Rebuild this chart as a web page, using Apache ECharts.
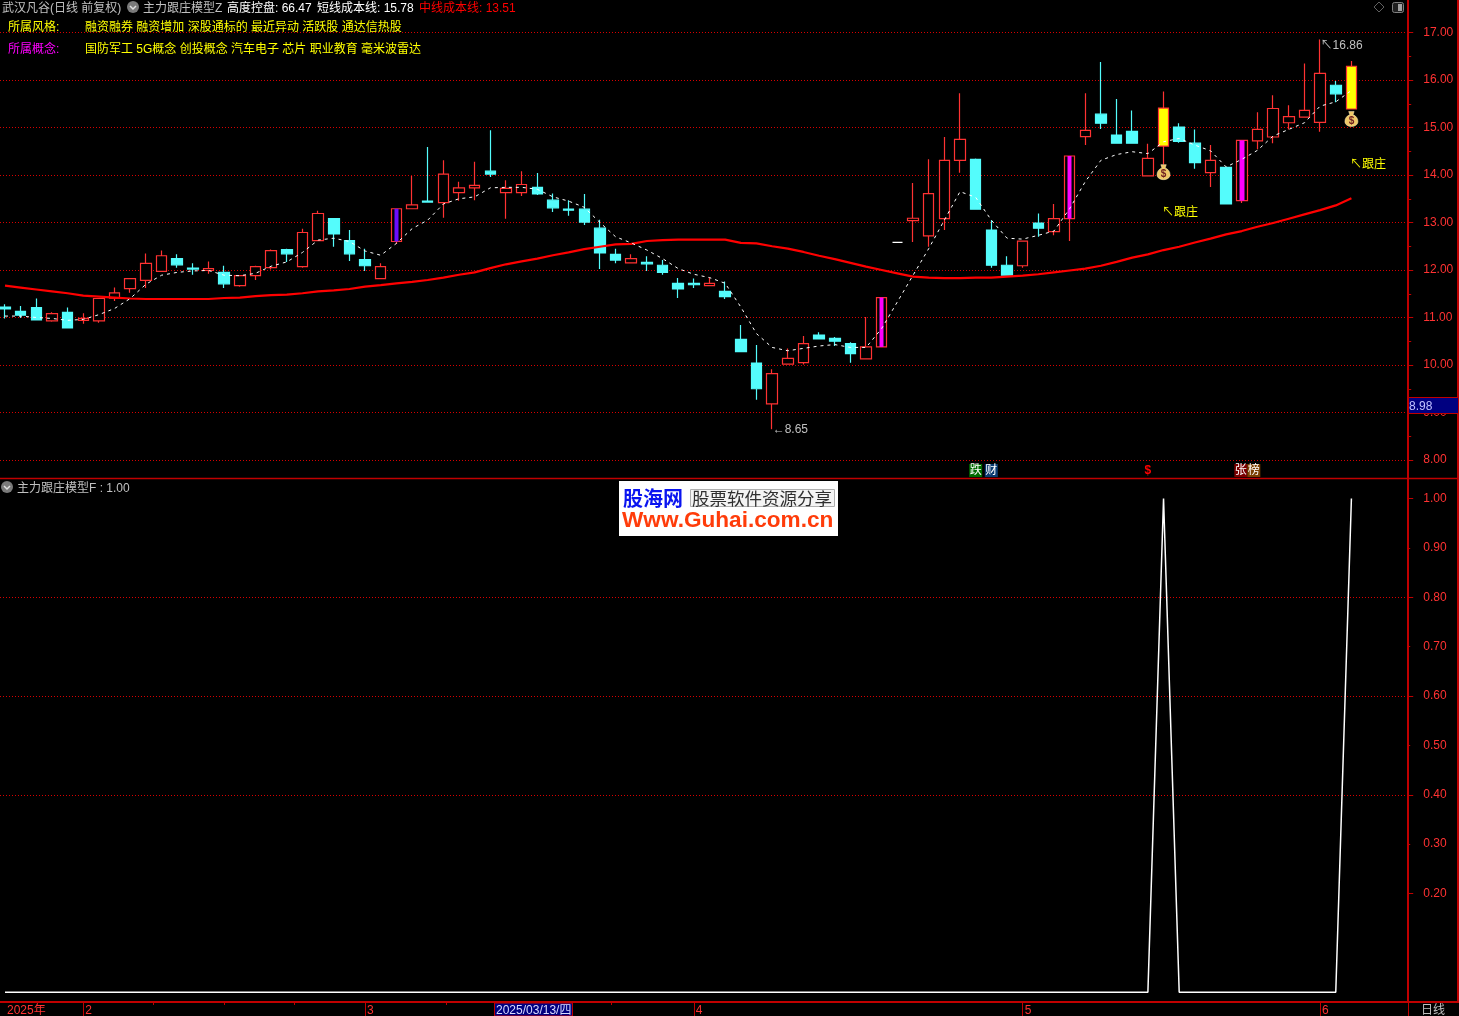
<!DOCTYPE html>
<html><head><meta charset="utf-8">
<style>html,body{margin:0;padding:0;background:#000}#c{width:1459px;height:1016px}</style>
<script src="https://cdn.jsdelivr.net/npm/echarts@6/dist/echarts.min.js"></script>
</head><body><div id="c"></div>
<script>
const opens=[11.22,11.13,11.21,10.93,11.11,10.94,10.93,11.41,11.61,11.78,11.97,12.24,12.04,11.99,11.95,11.67,11.88,12.05,12.43,12.07,12.62,13.08,12.62,12.22,11.82,12.60,13.29,13.45,13.42,13.63,13.73,
14.08,13.63,13.63,13.74,13.47,13.28,13.28,12.88,12.33,12.15,12.16,12.10,11.72,11.72,11.67,11.55,10.54,10.04,9.18,10.02,10.05,10.63,10.56,10.45,10.13,10.38,12.58,13.04,12.72,13.08,
14.31,14.33,12.84,12.10,12.09,12.99,12.81,13.08,14.81,15.28,14.84,14.92,13.98,14.61,15.01,14.67,14.05,14.16,13.46,14.72,14.80,15.10,15.22,15.11,15.89,15.39];
const closes=[11.18,11.05,10.95,11.08,10.78,10.98,11.40,11.52,11.82,12.14,12.30,12.11,12.02,12.03,11.71,11.88,12.07,12.41,12.34,12.79,13.19,12.76,12.34,12.09,12.07,13.29,13.37,13.43,14.02,13.73,13.78,
14.02,13.72,13.80,13.60,13.31,13.26,13.01,12.36,12.21,12.24,12.13,11.95,11.60,11.69,11.72,11.44,10.28,9.50,9.82,10.14,10.45,10.55,10.50,10.24,10.38,11.42,12.58,13.09,13.61,14.31,
14.75,13.28,12.10,11.89,12.61,12.88,13.08,14.40,14.94,15.09,14.67,14.67,14.35,15.41,14.71,14.26,14.31,13.39,14.73,14.96,15.40,15.23,15.36,16.14,15.71,16.29];
const lows=[10.98,10.99,10.95,10.91,10.78,10.87,10.89,11.35,11.52,11.62,11.96,12.05,11.90,11.92,11.62,11.65,11.79,12.01,12.17,12.05,12.61,12.49,12.19,11.98,11.82,12.55,13.29,13.43,13.10,13.46,13.47,
13.96,13.08,13.56,13.58,13.22,13.14,12.95,12.02,12.14,12.15,11.98,11.90,11.41,11.62,11.66,11.39,10.28,9.27,8.65,10.02,10.01,10.54,10.40,10.05,10.13,10.38,12.58,12.59,12.49,12.84,
14.05,13.28,12.05,11.89,12.05,12.70,12.73,12.61,14.63,14.97,14.66,14.67,13.98,14.22,14.68,14.13,13.75,13.39,13.41,14.54,14.67,14.96,15.22,14.91,15.53,15.39];
const highs=[11.28,11.24,11.40,11.11,11.21,11.09,11.40,11.63,11.82,12.35,12.41,12.33,12.14,12.18,12.09,11.88,12.09,12.43,12.45,12.87,13.25,13.08,12.84,12.45,12.14,13.29,13.98,14.59,14.31,13.86,14.28,
14.94,13.89,14.08,14.04,13.61,13.47,13.60,13.06,12.45,12.33,12.29,12.21,11.83,11.82,11.84,11.76,10.84,10.42,9.91,10.35,10.61,10.69,10.59,10.48,11.01,11.42,12.58,13.83,14.33,14.80,
15.72,14.35,13.05,12.29,12.61,13.19,13.39,14.40,15.72,16.38,15.60,15.36,14.66,15.76,15.09,14.96,14.63,14.16,14.73,15.32,15.68,15.47,16.35,16.86,15.98,16.40];
const shortCost=[11.03,11.03,11.00,10.98,10.94,10.96,11.06,11.19,11.40,11.70,11.89,11.95,11.98,11.99,11.89,11.88,11.93,12.08,12.17,12.37,12.63,12.67,12.60,12.40,12.31,12.56,12.87,13.05,13.39,13.50,13.54,
13.73,13.74,13.74,13.70,13.54,13.45,13.32,13.00,12.70,12.57,12.42,12.24,12.03,11.91,11.84,11.72,11.22,10.66,10.37,10.30,10.35,10.40,10.43,10.37,10.37,10.77,11.33,11.89,12.45,13.05,
13.65,13.53,13.05,12.67,12.65,12.73,12.82,13.29,13.86,14.31,14.43,14.49,14.45,14.70,14.77,14.63,14.51,14.17,14.33,14.52,14.82,14.96,15.10,15.45,15.54,15.78];
const midCost=[11.67,11.63,11.59,11.55,11.51,11.46,11.44,11.42,11.40,11.39,11.39,11.39,11.39,11.39,11.41,11.42,11.45,11.47,11.48,11.51,11.55,11.57,11.60,11.65,11.68,11.72,11.75,11.79,11.84,11.90,11.95,
12.04,12.12,12.18,12.24,12.31,12.37,12.44,12.49,12.54,12.55,12.61,12.63,12.64,12.64,12.64,12.64,12.57,12.56,12.50,12.45,12.38,12.30,12.23,12.15,12.07,12.00,11.93,11.86,11.84,11.83,
11.83,11.84,11.84,11.86,11.88,11.91,11.95,11.99,12.03,12.09,12.17,12.26,12.33,12.42,12.49,12.58,12.66,12.75,12.82,12.91,12.99,13.08,13.17,13.26,13.36,13.51];
const signalF=[0,0,0,0,0,0,0,0,0,0,0,0,0,0,0,0,0,0,0,0,0,0,0,0,0,0,0,0,0,0,0,0,0,0,0,0,0,0,0,0,0,0,0,0,0,0,0,0,0,0,0,0,0,0,0,0,0,0,0,0,0,0,0,0,0,0,0,0,0,0,0,0,0,0,1,0,0,0,0,0,0,0,0,0,0,0,1];
const barSlots=90;
const monthLabels={0:'2025年',5:'2',23:'3',44:'4',65:'5',84:'6'};
const monthTicks=[5,23,44,65,84];
const weekTicks=[9.5,14,18.5,28.2,38.7];
const signalMajorTicks=[0.2,0.4,0.6,0.8,1];
const signalMinorTicks=[0.3,0.5,0.7,0.9];
const stripeBars={25:'#6a0dff',56:'#ff00ff',68:'#ff00ff',79:'#ff00ff'};
const yellowBars=[74,86];
const badges={62:'{g|跌}',63:'{b|财}',73:'{s|$}',79:'{p|}{r|张}{o|榜}'};
const categories=Array.from({length:barSlots},(_,i)=>String(i));

const RED='#ff3232',FRAME='#c00000',FONT='"Liberation Sans","Noto Sans CJK SC",sans-serif';
const candleData=opens.map((o,i)=>{
  const v=[o,closes[i],lows[i],highs[i]];
  if(yellowBars.includes(i)) return {value:v,itemStyle:{color:'#ffff00',borderColor:RED,color0:'#ffff00',borderColor0:RED}};
  if(i===57) return {value:v,itemStyle:{color:'#ffffff',color0:'#ffffff',borderColor:'#ffffff',borderColor0:'#ffffff'}};
  return v;
});
const stripeData=opens.map((o,i)=>stripeBars[i]?{value:[o,closes[i],o,closes[i]],itemStyle:{color:stripeBars[i],color0:stripeBars[i],borderColor:stripeBars[i],borderColor0:stripeBars[i],borderWidth:0}}:['-','-','-','-']);

const bag='path://M7 0 L17 0 L15 6 C21 8 24 13 24 18 C24 24 18 27 12 27 C6 27 0 24 0 18 C0 13 3 8 9 6 Z';
const T=(x,y,text,fill,extra)=>({type:'text',z:100,x,y:y+1.5,style:Object.assign({text,fill,font:'12px '+FONT,textVerticalAlign:'middle'},extra||{})});
const icon=(cx,cy)=>[
 {type:'circle',z:100,shape:{cx,cy,r:6},style:{fill:'#7a7a7a'}},
 {type:'polyline',z:101,shape:{points:[[cx-3,cy-1],[cx,cy+2],[cx+3,cy-1]]},style:{stroke:'#e0e0e0',fill:null,lineWidth:1.5}}];
const L=(x1,y1,x2,y2,w)=>({type:'line',z:90,shape:{x1,y1,x2,y2},style:{stroke:FRAME,lineWidth:w}});

const graphic=[
 L(0,478.5,1459,478.5,1.5),L(1408,0,1408,1002,2),L(1458,0,1458,1002,2),L(0,1002,1459,1002,2),L(1408.5,1002,1408.5,1016,1),
 T(2,7,'武汉凡谷(日线 前复权)','#c0c0c0'),...icon(133,7),
 T(143,7,'主力跟庄模型Z','#c0c0c0'),T(227,7,'高度控盘: 66.47','#ffffff'),T(317,7,'短线成本线: 15.78','#ffffff'),T(419,7,'中线成本线: 13.51','#ff0000'),
 T(8,26,'所属风格:','#ffff00'),T(85,26,'融资融券 融资增加 深股通标的 最近异动 活跃股 通达信热股','#ffff00'),
 T(8,48,'所属概念:','#ff00ff'),T(85,48,'国防军工 5G概念 创投概念 汽车电子 芯片 职业教育 毫米波雷达','#ffff00'),
 ...icon(7,487),T(17,487,'主力跟庄模型F : 1.00','#c0c0c0'),
 {type:'polygon',z:100,shape:{points:[[1379,2],[1384,7],[1379,12],[1374,7]]},style:{fill:null,stroke:'#606060',lineWidth:1}},
 {type:'rect',z:100,shape:{x:1392.5,y:2.5,width:11,height:10,r:2},style:{fill:'#202020',stroke:'#808080',lineWidth:1}},
 {type:'rect',z:100,shape:{x:1398,y:4,width:4,height:7},style:{fill:'#a0a0a0'}},
 {type:'rect',z:100,shape:{x:1408.5,y:397.5,width:50,height:16},style:{fill:'#000080',stroke:FRAME,lineWidth:1}},
 T(1409,405,'8.98','#c0c0ff'),
 {type:'rect',z:100,shape:{x:494.5,y:1003,width:78,height:13},style:{fill:'#000080',stroke:FRAME,lineWidth:1}},
 T(496,1009,'2025/03/13/四','#d8d8ff'),
 T(1421,1009,'日线','#c0c0c0'),
 {type:'rect',z:100,shape:{x:619,y:481,width:219,height:55},style:{fill:'#ffffff'}},
 T(623,497,'股海网','#0a14f0',{font:'bold 20px "Noto Sans CJK SC"'}),
 {type:'rect',z:100,shape:{x:690.5,y:489.5,width:144,height:17},style:{fill:'#f4f4f4',stroke:'#b0b0b0',lineWidth:1}},
 T(692,497,'股票软件资源分享','#303030',{font:'17.5px "Noto Sans CJK SC"'}),
 T(622,519,'Www.Guhai.com.cn','#ff3c0a',{font:'bold 22.6px "Liberation Sans"'})
];

const badgeBox=(bg)=>({backgroundColor:bg,color:'#fff',width:13,height:13,align:'center',fontSize:12,fontFamily:FONT});
const markLabel=(text,color,offset)=>({show:true,position:'right',distance:0,formatter:text,color,fontSize:12,fontFamily:FONT,offset});
const dots={color:'#d80000',type:[1,2],dashOffset:0.17,width:1};
const option={
 backgroundColor:'#000',animation:false,graphic,
 grid:[{left:-2.83,width:1409.04,top:32.5,height:427.5,outerBoundsMode:'none'},{left:-2.83,width:1409.04,top:498.5,height:493.75,outerBoundsMode:'none'}],
 xAxis:[
  {type:'category',gridIndex:0,data:categories,boundaryGap:true,axisLine:{show:false,onZero:false},axisTick:{show:false},
   axisLabel:{interval:0,margin:4,hideOverlap:false,formatter:v=>badges[+v]||'',
    rich:{g:badgeBox('#006a00'),b:badgeBox('#0a3a70'),r:badgeBox('#7a0000'),o:badgeBox('#7a4000'),p:{width:11,height:13},
          s:{color:'#ff0000',fontSize:12,fontWeight:'bold',height:13,fontFamily:FONT}}}},
  {type:'category',gridIndex:1,data:categories,boundaryGap:true,offset:9.75,axisLine:{show:false,onZero:false},
   axisTick:{show:true,alignWithLabel:true,length:14,lineStyle:{color:FRAME,width:1},interval:i=>monthTicks.includes(i)},
   axisLabel:{interval:i=>monthLabels[i]!==undefined,margin:3,align:'left',padding:[0,0,0,2],color:RED,fontSize:12,fontFamily:FONT,hideOverlap:false,formatter:v=>monthLabels[+v]||''}},
  {type:'value',gridIndex:1,min:-0.5,max:89.5,offset:9.75,position:'bottom',splitLine:{show:false},axisLine:{show:false,onZero:false},axisLabel:{show:false},
   axisTick:{show:true,length:3,customValues:weekTicks,lineStyle:{color:FRAME,width:1}}}
 ],
 yAxis:[
  {type:'value',gridIndex:0,position:'right',offset:2,min:8,max:17,interval:1,scale:true,axisLine:{show:false,onZero:false},
   axisTick:{show:true,length:5,lineStyle:{color:FRAME}},minorTick:{show:true,splitNumber:2,length:3,lineStyle:{color:FRAME}},
   splitLine:{show:true,lineStyle:dots},minorSplitLine:{show:false},
   axisLabel:{color:RED,fontSize:12,fontFamily:FONT,margin:15,padding:[3,0,0,0],formatter:v=>v.toFixed(2)}},
  {type:'value',gridIndex:1,position:'right',offset:2,min:0,max:1,interval:0.2,axisLine:{show:false,onZero:false},
   axisTick:{show:true,length:5,customValues:signalMajorTicks,lineStyle:{color:FRAME}},
   splitLine:{show:true,showMinLine:false,showMaxLine:false,lineStyle:dots},axisLabel:{show:false}},
  {type:'value',gridIndex:1,position:'right',offset:2,min:0,max:1,interval:0.1,axisLine:{show:false,onZero:false},
   axisTick:{show:true,length:2,customValues:signalMinorTicks,lineStyle:{color:FRAME}},splitLine:{show:false},
   axisLabel:{color:RED,fontSize:12,fontFamily:FONT,margin:15,padding:[3,0,0,0],formatter:v=>v<0.15?'':v.toFixed(2)}}
 ],
 series:[
  {type:'candlestick',name:'K',xAxisIndex:0,yAxisIndex:0,barWidth:11,data:candleData,z:3,
   itemStyle:{color:'#000',color0:'#54fcfc',borderColor:RED,borderColor0:'#54fcfc',borderWidth:1.2},
   markPoint:{silent:true,animation:false,data:[
     {coord:[49,8.65],symbol:'circle',symbolSize:1,label:markLabel('←8.65','#c0c0c0',[0,1])},
     {coord:[84,16.86],symbol:'circle',symbolSize:1,label:markLabel('↖16.86','#c0c0c0',[0,7])},
     {coord:[74,13.24],symbol:'circle',symbolSize:1,label:markLabel('↖跟庄','#ffff00',[-2,2])},
     {coord:[86,14.25],symbol:'circle',symbolSize:1,label:markLabel('↖跟庄','#ffff00',[-2,2])},
     {coord:[74,14.06],symbol:bag,symbolSize:[13,15],itemStyle:{color:'#efc868',borderColor:'#fff0c0',borderWidth:0.5},label:{show:true,position:'inside',formatter:'$',color:'#702020',fontSize:10,fontWeight:'bold',offset:[0,2]}},
     {coord:[86,15.18],symbol:bag,symbolSize:[13,15],itemStyle:{color:'#efc868',borderColor:'#fff0c0',borderWidth:0.5},label:{show:true,position:'inside',formatter:'$',color:'#702020',fontSize:10,fontWeight:'bold',offset:[0,2]}}
   ]}},
  {type:'candlestick',name:'S',xAxisIndex:0,yAxisIndex:0,barWidth:5,data:stripeData,z:4,itemStyle:{borderWidth:0}},
  {type:'line',name:'短线成本线',xAxisIndex:0,yAxisIndex:0,data:shortCost,showSymbol:false,z:6,lineStyle:{color:'#fff',width:1,type:[3,4]}},
  {type:'line',name:'中线成本线',xAxisIndex:0,yAxisIndex:0,data:midCost,showSymbol:false,z:5,lineStyle:{color:'#ff0000',width:2.2}},
  {type:'line',name:'主力跟庄模型F',xAxisIndex:1,yAxisIndex:1,data:signalF,showSymbol:false,z:5,lineStyle:{color:'#fff',width:1.5}}
 ]
};
echarts.init(document.getElementById('c'),null,{renderer:'canvas'}).setOption(option);
</script></body></html>
